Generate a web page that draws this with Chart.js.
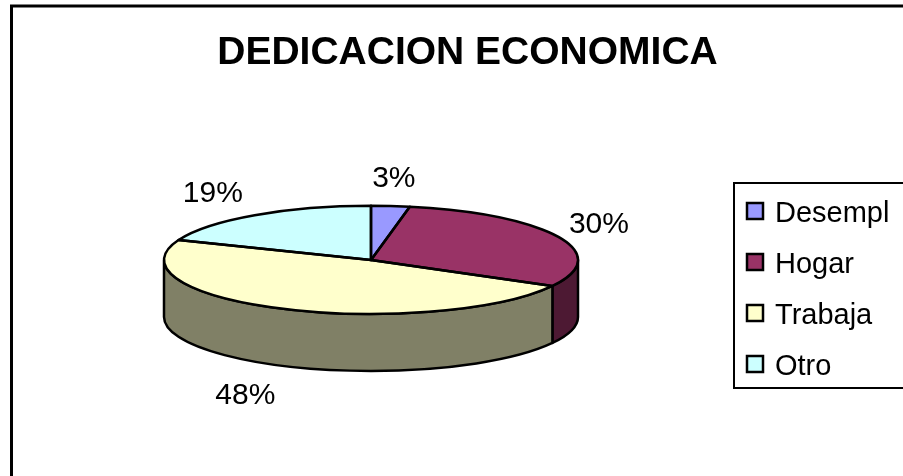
<!DOCTYPE html>
<html>
<head>
<meta charset="utf-8">
<title>DEDICACION ECONOMICA</title>
<script src="https://cdn.jsdelivr.net/npm/chart.js@4/dist/chart.umd.min.js"></script>
<style>
    html, body { margin: 0; padding: 0; background: #fff; overflow: hidden; }
    canvas { display: block; }
</style>
</head>
<body>
<canvas id="myPieChart" width="903" height="476"></canvas>
<script>
const titleText = 'DEDICACION ECONOMICA';
const categories = ['Desempl', 'Hogar', 'Trabaja', 'Otro'];
const percentValues = [3, 30, 48, 19];
const topColors = ['#9999FF', '#993366', '#FFFFCC', '#CCFFFF'];
const sideColors = ['#4D4D80', '#4D1933', '#808066', '#668080'];

const FONT = '"Liberation Sans", Arial, sans-serif';
const TILT = 0.261;   // ry / rx of the squashed pie
const DEPTH = 57;     // height of the pie wall
// small nudges so the percentages sit where the original ones do
const labelNudge = [[-1, 3], [-1, 1], [-18, 2], [-16, 4]];

// path of an arc on the squashed ellipse, line width stays untouched
function ellipseArc(ctx, el, yOff, from, to, ccw) {
    ctx.ellipse(el.x, el.y + yOff, el.outerRadius, el.outerRadius * TILT, 0, from, to, ccw);
}

const pie3d = {
    id: 'pie3d',
    afterLayout(chart) {
        // title is centred on the whole frame, not over the pie
        chart.titleBlock.left += 96.5;
        chart.titleBlock.right += 96.5;
    },
    beforeDraw(chart) {
        // outer frame, only left and top are in the picture
        const ctx = chart.ctx;
        ctx.save();
        ctx.strokeStyle = '#000';
        ctx.lineWidth = 3;
        ctx.beginPath();
        ctx.moveTo(11.5, 476);
        ctx.lineTo(11.5, 6);
        ctx.lineTo(903, 6);
        ctx.stroke();
        ctx.restore();
    },
    beforeDatasetDraw(chart, args) {
        const ctx = chart.ctx;
        const arcs = args.meta.data;
        ctx.save();
        ctx.lineWidth = 2.5;
        ctx.strokeStyle = '#000';
        ctx.lineJoin = 'round';

        // walls, front half of the ellipse only
        arcs.forEach((el, i) => {
            [0, 2 * Math.PI].forEach(shift => {
                const a0 = Math.max(el.startAngle + shift, 0);
                const a1 = Math.min(el.endAngle + shift, Math.PI);
                if (a1 <= a0) return;
                ctx.beginPath();
                ellipseArc(ctx, el, 0, a0, a1, false);
                ellipseArc(ctx, el, DEPTH, a1, a0, true);
                ctx.closePath();
                ctx.fillStyle = sideColors[i];
                ctx.fill();
                ctx.stroke();
            });
        });

        // top face: the library draws the arcs, we squash them
        arcs.forEach(el => {
            ctx.save();
            ctx.translate(el.x, el.y);
            ctx.scale(1, TILT);
            ctx.translate(-el.x, -el.y);
            el.draw(ctx);
            ctx.restore();
        });
        arcs.forEach(el => {
            ctx.beginPath();
            ctx.moveTo(el.x, el.y);
            ellipseArc(ctx, el, 0, el.startAngle, el.endAngle, false);
            ctx.closePath();
            ctx.stroke();
        });

        // percentages around the pie
        ctx.fillStyle = '#000';
        ctx.font = '30px ' + FONT;
        ctx.textAlign = 'center';
        ctx.textBaseline = 'middle';
        arcs.forEach((el, i) => {
            const mid = (el.startAngle + el.endAngle) / 2;
            const x = el.x + (el.outerRadius + 46) * Math.cos(mid);
            let y = el.y + 85 * Math.sin(mid);
            if (Math.sin(mid) > 0) y += DEPTH;
            ctx.fillText(percentValues[i] + '%', x + labelNudge[i][0], y + labelNudge[i][1]);
        });
        ctx.restore();
        return false;
    },
    afterDraw(chart) {
        // legend box, cut by the right edge like the original
        const ctx = chart.ctx;
        ctx.save();
        ctx.strokeStyle = '#000';
        ctx.lineWidth = 2;
        ctx.beginPath();
        ctx.moveTo(905, 183);
        ctx.lineTo(734, 183);
        ctx.lineTo(734, 388);
        ctx.lineTo(905, 388);
        ctx.stroke();

        ctx.font = '29px ' + FONT;
        ctx.textAlign = 'left';
        ctx.textBaseline = 'alphabetic';
        chart.data.labels.forEach((name, i) => {
            const base = 222 + i * 51;
            ctx.fillStyle = topColors[i];
            ctx.fillRect(747, base - 19, 16, 16);
            ctx.lineWidth = 2.5;
            ctx.strokeRect(747, base - 19, 16, 16);
            ctx.fillStyle = '#000';
            ctx.fillText(name, 775, base);
        });
        ctx.restore();
    }
};

const ctx = document.getElementById('myPieChart').getContext('2d');

const myPieChart = new Chart(ctx, {
    type: 'pie',
    data: {
        labels: categories,
        datasets: [{
            data: percentValues,
            backgroundColor: topColors,
            borderWidth: 0,
            radius: 207
        }]
    },
    options: {
        responsive: false,
        animation: false,
        layout: {
            padding: { left: 32, right: 193, top: 0, bottom: 33 }
        },
        plugins: {
            legend: { display: false },
            tooltip: { enabled: false },
            title: {
                display: true,
                text: titleText,
                color: '#000',
                font: { family: FONT, size: 39, weight: 'bold' },
                padding: { top: 30, bottom: 0 }
            }
        }
    },
    plugins: [pie3d]
});
</script>
</body>
</html>
